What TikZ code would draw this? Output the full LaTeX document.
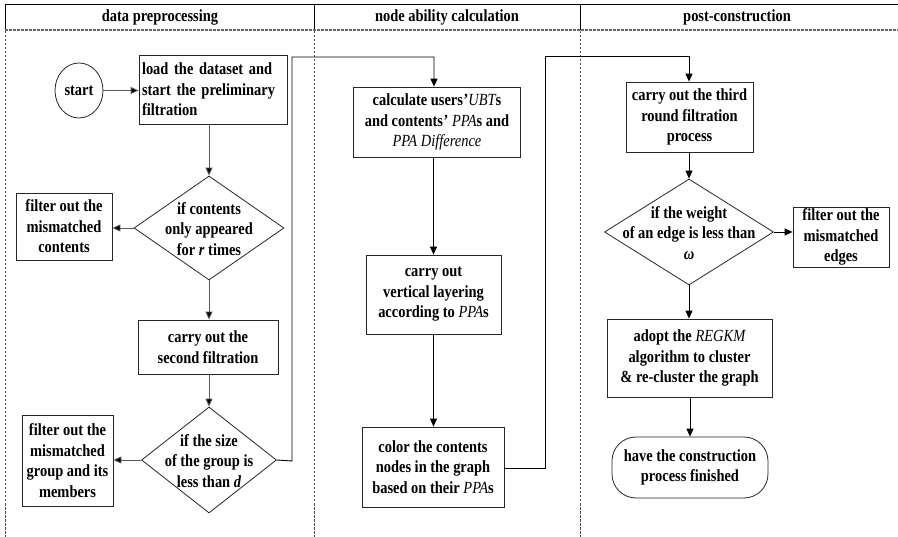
\documentclass[tikz,border=0pt]{standalone}
\usepackage{fontspec}
\setmainfont{Liberation Serif}[FakeStretch=0.85]
\usetikzlibrary{shapes.geometric,arrows.meta}

\newcommand{\ivar}[1]{{\mdseries\itshape #1}}
\newcommand{\bvar}[1]{{\itshape #1}}

\tikzset{
  every node/.style={font=\bfseries\fontsize{17}{20.5}\selectfont},
  box/.style={draw=black!85, line width=0.8pt, rectangle, inner sep=0pt, align=center},
  decision/.style={draw=black!85, line width=0.8pt, diamond, inner sep=0pt},
  txt/.style={inner sep=0pt, align=center},
  flow/.style={line width=0.9pt, draw=black, -{Triangle[length=8pt,width=7pt]}},
  flowgray/.style={flow, draw=black!65, -{Triangle[length=8pt,width=7pt,fill=black]}},
  lane/.style={draw=black!70, line width=0.8pt, dash pattern=on 2.5pt off 1.5pt},
}

\begin{document}
\begin{tikzpicture}[x=1pt, y=-1pt]
\useasboundingbox (0,0) rectangle (898,537);

% ---- swimlane header ----
\draw[line width=0.9pt] (5,4) -- (898,4);
\draw[line width=0.9pt] (5,4) -- (5,30);
\draw[line width=0.9pt] (314,4) -- (314,30);
\draw[line width=0.9pt] (580,4) -- (580,30);
\draw[draw=black!60, line width=1.6pt, dash pattern=on 3pt off 1pt] (5,30) -- (898,30);
\node (h1) at (160,17) {data preprocessing};
\node (h2) at (447,17) {node ability calculation};
\node (h3) at (737,17) {post-construction};

% ---- lane separators ----
\draw[lane] (5,31) -- (5,537);
\draw[lane] (314,31) -- (314,537);
\draw[lane] (580,31) -- (580,537);

% ---- data preprocessing ----
\node[draw=black!85, line width=0.8pt, ellipse, minimum width=48pt, minimum height=55pt, inner sep=0pt] (start) at (79,90.5) {start};
\node[box, align=left, minimum width=148pt, minimum height=69pt, text width=142pt] (load) at (213,89.5)
  {load the dataset and\\ start the preliminary\\ filtration};
\node[decision, minimum width=150pt, minimum height=104pt] (d1) at (209,228) {};
\node[txt] (d1t) at (209,229) {if contents\\ only appeared\\ for \bvar{r} times};
\node[box, minimum width=96pt, minimum height=67pt] (f1) at (64,226.5) {filter out the\\ mismatched\\ contents};
\node[box, minimum width=140pt, minimum height=54pt] (second) at (208,347) {carry out the\\ second filtration};
\node[decision, minimum width=135pt, minimum height=106pt] (d2) at (209,460) {};
\node[txt] (d2t) at (209,461) {if the size\\ of the group is\\ less than \bvar{d}};
\node[box, minimum width=91pt, minimum height=91pt] (f2) at (67.5,460.5) {filter out the\\ mismatched\\ group and its\\ members};

% ---- node ability calculation ----
\node[box, minimum width=167pt, minimum height=70pt] (calc) at (437,122)
  {calculate users\kern0.5pt'\ivar{UBT}s\\ and contents\kern0.5pt' \ivar{PPA}s and\\ \ivar{PPA Difference}};
\node[box, minimum width=135pt, minimum height=79pt] (layer) at (433.5,294.5)
  {carry out\\ vertical layering\\ according to \ivar{PPA}s};
\node[box, minimum width=142pt, minimum height=80pt] (color) at (433,467)
  {color the contents\\ nodes in the graph\\ based on their \ivar{PPA}s};

% ---- post-construction ----
\node[box, minimum width=127pt, minimum height=70pt] (third) at (689.5,117)
  {carry out the third\\ round filtration\\ process};
\node[decision, minimum width=169pt, minimum height=106pt] (d3) at (689,232) {};
\node[txt] (d3t) at (689,233) {if the weight\\ of an edge is less than\\ \bvar{ω}};
\node[box, minimum width=96pt, minimum height=60pt] (f3) at (841,237) {filter out the\\ mismatched\\ edges};
\node[box, minimum width=165pt, minimum height=78pt] (regkm) at (689.5,358)
  {adopt the \ivar{REGKM}\\ algorithm to cluster\\ \& re-cluster the graph};
\node[box, rounded corners=24pt, minimum width=156pt, minimum height=61pt] (finish) at (690,467.5)
  {have the construction\\ process finished};

% ---- bend points of the long connectors ----
\coordinate (b1) at (292,461);
\coordinate (b2) at (292,57);
\coordinate (b3) at (434,57);
\coordinate (c1) at (545,468);
\coordinate (c2) at (545,56);
\coordinate (c3) at (689,56);

% ---- connectors ----
\draw[flowgray] (start.east) -- (start.east -| load.west);
\draw[flowgray] (load.south -| d1.north) -- (d1.north);
\draw[flowgray] (d1.west) -- (d1.west -| f1.east);
\draw[flowgray] (d1.south) -- (d1.south |- second.north);
\draw[flowgray] (second.south -| d2.north) -- (d2.north);
\draw[flowgray] (d2.west) -- (d2.west -| f2.east);
\draw[flow] (d2.east) -- (b1) -- (b2) -- (b3) -- (b3 |- calc.north);
\draw[flow] (calc.south -| layer.north) -- (layer.north);
\draw[flow] (layer.south) -- (layer.south |- color.north);
\draw[flow] (color.east |- c1) -- (c1) -- (c2) -- (c3) -- (c3 |- third.north);
\draw[flow] (third.south -| d3.north) -- (d3.north);
\draw[flow] (d3.east) -- (d3.east -| f3.west);
\draw[flow] (d3.south) -- (d3.south |- regkm.north);
\draw[flow] (regkm.south -| finish.north) -- (finish.north);
\end{tikzpicture}
\end{document}
